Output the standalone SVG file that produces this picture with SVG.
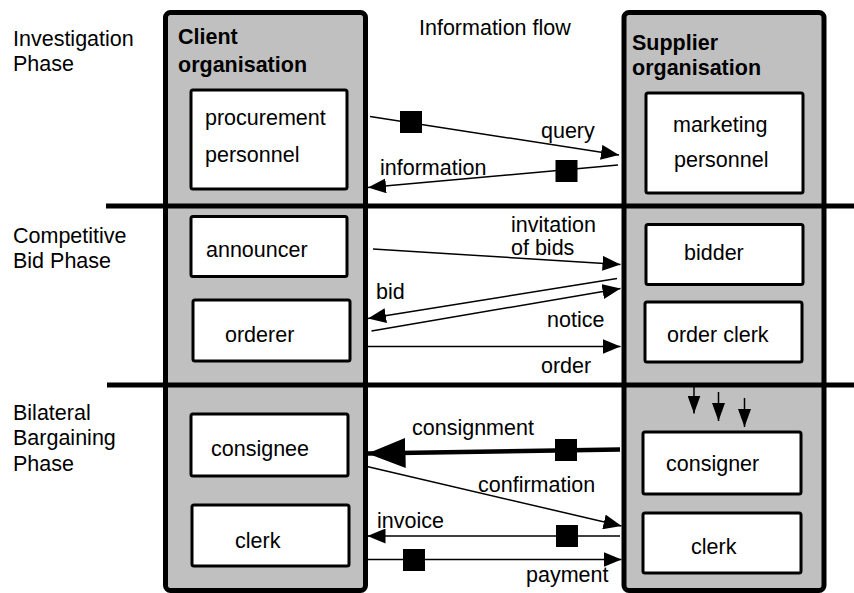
<svg xmlns="http://www.w3.org/2000/svg" width="854" height="593" viewBox="0 0 854 593">
  <style>
    text { font-family: "Liberation Sans", Arial, Helvetica, sans-serif; font-size: 21.5px; fill: #000; }
    .head { font-weight: bold; }
    .org { fill: #c0c0c0; stroke: #000; stroke-width: 5; }
    .role { fill: #fff; stroke: #000; stroke-width: 3; }
    .sep { stroke: #000; stroke-width: 5; fill: none; }
    .msg { stroke: #000; stroke-width: 1.5; fill: none; marker-end: url(#head); }
    .bigmsg { stroke: #000; stroke-width: 4.5; fill: none; marker-end: url(#bighead); }
    .down { stroke: #000; stroke-width: 1.5; fill: none; marker-end: url(#smallhead); }
    .tok { fill: #000; }
  </style>
  <defs>
    <marker id="head" markerUnits="userSpaceOnUse" markerWidth="18" markerHeight="15" refX="18" refY="7.5" orient="auto">
      <path d="M0,0 L18,7.5 L0,15 z" fill="#000"/>
    </marker>
    <marker id="bighead" markerUnits="userSpaceOnUse" markerWidth="38" markerHeight="30" refX="38" refY="15" orient="auto">
      <path d="M0,0 L38,15 L0,30 z" fill="#000"/>
    </marker>
    <marker id="smallhead" markerUnits="userSpaceOnUse" markerWidth="18" markerHeight="13" refX="18" refY="6.5" orient="auto">
      <path d="M0,0 L18,6.5 L0,13 z" fill="#000"/>
    </marker>
  </defs>

  <!-- phase labels -->
  <g id="phases">
    <text x="13" y="46">Investigation</text>
    <text x="13" y="71">Phase</text>
    <text x="13" y="243">Competitive</text>
    <text x="13" y="268">Bid Phase</text>
    <text x="13" y="420">Bilateral</text>
    <text x="13" y="445">Bargaining</text>
    <text x="13" y="471">Phase</text>
  </g>

  <text x="419" y="35">Information flow</text>

  <!-- organisations -->
  <g id="client">
    <rect class="org" x="165.5" y="12.5" width="200" height="578" rx="5"/>
    <text class="head" x="178" y="44">Client</text>
    <text class="head" x="178" y="72">organisation</text>
  </g>
  <g id="supplier">
    <rect class="org" x="624" y="12.5" width="200" height="578" rx="5"/>
    <text class="head" x="632" y="50">Supplier</text>
    <text class="head" x="632" y="75">organisation</text>
  </g>

  <!-- phase separators -->
  <g id="separators">
    <line class="sep" x1="106" y1="206" x2="854" y2="206"/>
    <line class="sep" x1="107" y1="385" x2="854" y2="385"/>
  </g>

  <!-- client roles -->
  <g id="procurement">
    <rect class="role" x="191" y="90" width="156" height="99" rx="2"/>
    <text x="205" y="125">procurement</text>
    <text x="205" y="162">personnel</text>
  </g>
  <g id="announcer">
    <rect class="role" x="191" y="216.5" width="156" height="60" rx="2"/>
    <text x="206" y="257">announcer</text>
  </g>
  <g id="orderer">
    <rect class="role" x="193" y="300" width="157" height="61" rx="2"/>
    <text x="225" y="342">orderer</text>
  </g>
  <g id="consignee">
    <rect class="role" x="191" y="414" width="157" height="62" rx="2"/>
    <text x="211" y="456">consignee</text>
  </g>
  <g id="client-clerk">
    <rect class="role" x="192" y="505" width="157" height="61" rx="2"/>
    <text x="235" y="548">clerk</text>
  </g>

  <!-- supplier roles -->
  <g id="marketing">
    <rect class="role" x="646" y="93" width="157" height="100" rx="2"/>
    <text x="673" y="132">marketing</text>
    <text x="674" y="167">personnel</text>
  </g>
  <g id="bidder">
    <rect class="role" x="646" y="224.5" width="157" height="60" rx="2"/>
    <text x="684" y="260">bidder</text>
  </g>
  <g id="order-clerk">
    <rect class="role" x="645" y="302" width="157" height="60" rx="2"/>
    <text x="667" y="342">order clerk</text>
  </g>
  <g id="consigner">
    <rect class="role" x="643" y="432" width="158" height="62" rx="2"/>
    <text x="666" y="471">consigner</text>
  </g>
  <g id="supplier-clerk">
    <rect class="role" x="643" y="513" width="158" height="60" rx="2"/>
    <text x="691" y="554">clerk</text>
  </g>

  <!-- information flows -->
  <g id="connectors">
    <line class="msg" x1="370" y1="116.5" x2="619" y2="155"/>
    <rect class="tok" x="400" y="111" width="22" height="22"/>
    <text x="541" y="138">query</text>

    <line class="msg" x1="618" y1="165" x2="368" y2="187.5"/>
    <rect class="tok" x="555.5" y="160" width="22" height="22"/>
    <text x="380" y="175">information</text>

    <line class="msg" x1="373" y1="249" x2="620.5" y2="264.5"/>
    <text x="511" y="232">invitation</text>
    <text x="511" y="255">of bids</text>

    <line class="msg" x1="617" y1="278.5" x2="368" y2="318.5"/>
    <text x="376" y="299">bid</text>

    <line class="msg" x1="371.5" y1="331" x2="620.5" y2="288.5"/>
    <text x="547" y="327">notice</text>

    <line class="msg" x1="367" y1="346.5" x2="620.5" y2="346.5"/>
    <text x="541" y="373">order</text>

    <line class="bigmsg" x1="620" y1="449.5" x2="367.5" y2="453.5"/>
    <rect class="tok" x="555" y="439" width="22" height="22"/>
    <text x="412" y="435">consignment</text>

    <line class="msg" x1="367" y1="466.5" x2="621.5" y2="526"/>
    <text x="478" y="492">confirmation</text>

    <line class="msg" x1="620" y1="536" x2="367.5" y2="536"/>
    <rect class="tok" x="556" y="525" width="22" height="22"/>
    <text x="377" y="528">invoice</text>

    <line class="msg" x1="367" y1="559.5" x2="621.5" y2="559.5"/>
    <rect class="tok" x="403" y="549" width="22" height="22"/>
    <text x="526" y="582">payment</text>

    <line class="down" x1="694" y1="387" x2="694" y2="413.5"/>
    <line class="down" x1="718.5" y1="392" x2="718.5" y2="421"/>
    <line class="down" x1="744.5" y1="398" x2="744.5" y2="427"/>
  </g>
</svg>
